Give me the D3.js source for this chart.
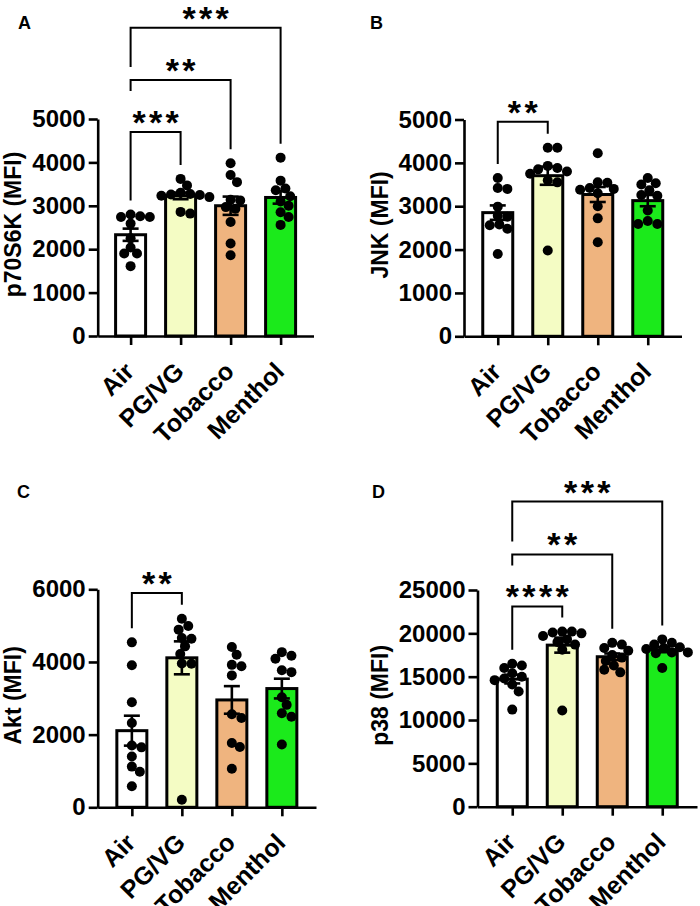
<!DOCTYPE html>
<html><head><meta charset="utf-8">
<script src="https://cdn.jsdelivr.net/npm/d3@7"></script>
<style>
body{margin:0;background:#fff}
svg{display:block}
text{font-family:"Liberation Sans",Arial,sans-serif;font-weight:bold;fill:#000}
</style>
</head><body><svg id="chart" width="700" height="906"></svg>
<script>
// ---------- data ----------
const categories = ["Air", "PG/VG", "Tobacco", "Menthol"];
const barColors = ["#FFFFFF", "#F4FCC4", "#EFB47F", "#1BEA1B"];

// Panel A: p70S6K (MFI)
const p70Air     = [2740, 2740, 2800, 2760, 2590, 2250, 2040, 1900, 1900, 1610];
const p70PGVG    = [3620, 3470, 3250, 3270, 3260, 3230, 3200, 3300, 2820, 2860];
const p70Tobacco = [3980, 3710, 3545, 3125, 3140, 2970, 2930, 2625, 2130, 1860];
const p70Menthol = [4110, 3580, 3360, 3400, 3220, 3100, 3000, 2850, 2740, 2560];
const p70Ticks   = [0, 1000, 2000, 3000, 4000, 5000];
const p70Brackets = [
  {from: "Air", to: "PG/VG",   label: "***", value: 4700},
  {from: "Air", to: "Tobacco", label: "**",  value: 5900},
  {from: "Air", to: "Menthol", label: "***", value: 7100}
];

// Panel B: JNK (MFI)
const jnkAir     = [3650, 3400, 3420, 2990, 2760, 2780, 2580, 2480, 2560, 1900];
const jnkPGVG    = [4350, 4350, 3930, 3880, 3850, 3800, 3750, 3600, 3550, 1980];
const jnkTobacco = [4220, 3550, 3540, 3420, 3380, 3400, 3300, 3000, 2720, 2170];
const jnkMenthol = [3650, 3500, 3530, 3370, 3240, 3260, 2900, 2590, 2660, 2590];
const jnkTicks   = [0, 1000, 2000, 3000, 4000, 5000];
const jnkBrackets = [
  {from: "Air", to: "PG/VG", label: "**", value: 4950}
];

// Panel C: Akt (MFI)
const aktAir     = [4540, 3910, 2890, 2320, 1700, 1650, 1400, 1120, 980, 580];
const aktPGVG    = [5190, 4990, 4890, 4660, 4640, 4430, 4220, 3950, 3960, 210];
const aktTobacco = [4410, 4200, 3880, 3920, 3630, 2560, 2460, 1770, 1660, 1060];
const aktMenthol = [4170, 4090, 4270, 3720, 3770, 2820, 3030, 2590, 2490, 1730];
const aktTicks   = [0, 2000, 4000, 6000];
const aktBrackets = [
  {from: "Air", to: "PG/VG", label: "**", value: 5900}
];

// Panel D: p38 (MFI)
const p38Air     = [16000, 16500, 16300, 14800, 15400, 15000, 14600, 14100, 13300, 11200];
const p38PGVG    = [20200, 20000, 20200, 20100, 19300, 19700, 19000, 18700, 18100, 11100];
const p38Tobacco = [18900, 18700, 18300, 18000, 17500, 17200, 16800, 16300, 15500, 15800];
const p38Menthol = [19300, 18900, 18700, 18400, 18300, 18200, 17800, 17700, 17800, 16000];
const p38Ticks   = [0, 5000, 10000, 15000, 20000, 25000];
const p38Brackets = [
  {from: "Air", to: "PG/VG",   label: "****", value: 23100},
  {from: "Air", to: "Tobacco", label: "**",   value: 29100},
  {from: "Air", to: "Menthol", label: "***",  value: 35200}
];

// ---------- layout ----------
const panels = [
  {letter: "A", ylabel: "p70S6K (MFI)", groups: [p70Air, p70PGVG, p70Tobacco, p70Menthol], ticks: p70Ticks, brackets: p70Brackets,
   x0: 97.7, x1: 313.5, yBottom: 336, yTop: 119, lx: 18, ly: 29},
  {letter: "B", ylabel: "JNK (MFI)", groups: [jnkAir, jnkPGVG, jnkTobacco, jnkMenthol], ticks: jnkTicks, brackets: jnkBrackets,
   x0: 464, x1: 681.5, yBottom: 336.3, yTop: 119.5, lx: 370, ly: 29},
  {letter: "C", ylabel: "Akt (MFI)", groups: [aktAir, aktPGVG, aktTobacco, aktMenthol], ticks: aktTicks, brackets: aktBrackets,
   x0: 97.7, x1: 316, yBottom: 807.3, yTop: 589.3, lx: 17, ly: 498},
  {letter: "D", ylabel: "p38 (MFI)", groups: [p38Air, p38PGVG, p38Tobacco, p38Menthol], ticks: p38Ticks, brackets: p38Brackets,
   x0: 477.5, x1: 697, yBottom: 806.7, yTop: 590, lx: 372, ly: 498}
];

const svg = d3.select("#chart");
const R = 5;            // dot radius
const BAR_W = 30;
const STAR_PITCH = 16.6;
const STAR_SIZE = 34;

function swarm(values, cx, y) {
  const order = values.map((v, i) => ({v, i})).sort((a, b) => b.v - a.v);
  const placed = [];
  const minD = 2 * R * 0.88;
  for (const o of order) {
    const py = y(o.v);
    let px = cx;
    for (let k = 0; k < 60; k++) {
      const off = k === 0 ? 0 : (k % 2 ? 1 : -1) * Math.ceil(k / 2) * 1.6;
      const cand = cx + off;
      if (placed.every(p => Math.hypot(p.x - cand, p.y - py) >= minD)) { px = cand; break; }
    }
    placed.push({x: px, y: py, v: o.v});
  }
  return placed;
}

panels.forEach(P => {
  const g = svg.append("g");
  const w = P.x1 - P.x0;
  const pad = (w / 50 - 3) / 2;
  const x = d3.scalePoint().domain(categories).range([P.x0, P.x1]).padding(pad);
  const y = d3.scaleLinear().domain([0, d3.max(P.ticks)]).range([P.yBottom, P.yTop]);

  // bars
  const stats = P.groups.map((vals, i) => {
    const m = d3.mean(vals);
    const sem = d3.deviation(vals) / Math.sqrt(vals.length);
    return {cat: categories[i], mean: m, sem: sem, vals: vals, color: barColors[i]};
  });
  g.selectAll("rect.bar").data(stats).join("rect")
    .attr("class", "bar")
    .attr("x", d => x(d.cat) - BAR_W / 2)
    .attr("width", BAR_W)
    .attr("y", d => y(d.mean))
    .attr("height", d => y(0) - y(d.mean))
    .attr("fill", d => d.color)
    .attr("stroke", "#000")
    .attr("stroke-width", 3);

  // points
  stats.forEach(s => {
    const pts = swarm(s.vals, x(s.cat), y);
    g.selectAll(null).data(pts).join("circle")
      .attr("cx", d => d.x).attr("cy", d => d.y).attr("r", R).attr("fill", "#000");
  });

  // error bars (SEM)
  stats.forEach(s => {
    const cx = x(s.cat);
    const eg = g.append("g").attr("stroke", "#000").attr("stroke-width", 2.6).attr("fill", "none");
    eg.append("line").attr("x1", cx).attr("x2", cx).attr("y1", y(s.mean + s.sem)).attr("y2", y(s.mean - s.sem));
    eg.append("line").attr("x1", cx - 8).attr("x2", cx + 8).attr("y1", y(s.mean + s.sem)).attr("y2", y(s.mean + s.sem));
    eg.append("line").attr("x1", cx - 8).attr("x2", cx + 8).attr("y1", y(s.mean - s.sem)).attr("y2", y(s.mean - s.sem));
  });

  // axes
  const yAxis = g.append("g").attr("transform", `translate(${P.x0},0)`)
    .call(d3.axisLeft(y).tickValues(P.ticks).tickFormat(d3.format("d")).tickSize(9).tickSizeOuter(0).tickPadding(3));
  const xAxis = g.append("g").attr("transform", `translate(0,${P.yBottom})`)
    .call(d3.axisBottom(x).tickSize(9).tickSizeOuter(0).tickFormat(""));
  [yAxis, xAxis].forEach(a => {
    a.select(".domain").attr("stroke", "#000").attr("stroke-width", 2.6);
    a.selectAll(".tick line").attr("stroke", "#000").attr("stroke-width", 2.6);
  });
  yAxis.selectAll(".tick text").attr("font-size", 24).attr("fill", "#000")
    .style("font-family", '"Liberation Sans", Arial, sans-serif').style("font-weight", "bold");

  // x labels rotated
  g.selectAll("text.xl").data(categories).join("text")
    .attr("class", "xl")
    .attr("transform", d => `translate(${x(d) + 5},${P.yBottom + 37}) rotate(-45)`)
    .attr("text-anchor", "end")
    .attr("font-size", 25)
    .text(d => d);

  // y label
  let minLeft = Infinity;
  yAxis.selectAll(".tick text").each(function() {
    const b = this.getBBox();
    const m = this.getCTM();
    minLeft = Math.min(minLeft, b.x + m.e);
  });
  g.append("text")
    .attr("transform", `translate(${minLeft - 11},${(P.yBottom + P.yTop) / 2 - 3}) rotate(-90)`)
    .attr("text-anchor", "middle")
    .attr("font-size", 23)
    .text(P.ylabel);

  // panel letter
  g.append("text").attr("x", P.lx).attr("y", P.ly).attr("font-size", 18).text(P.letter);

  // significance brackets
  const br = P.brackets.map(b => {
    const xa = x(b.from), xb = x(b.to);
    const mid = (xa + xb) / 2;
    const half = b.label.length * STAR_PITCH / 2;
    return {...b, xa, xb, mid, yl: y(b.value), sx0: mid - half, sx1: mid + half};
  });
  function legEnd(bk, xp, cat) {
    const vals = P.groups[categories.indexOf(cat)];
    const c = [y(d3.max(vals)) - R - 9];
    br.forEach(o => {
      if (o === bk || o.yl <= bk.yl) return;
      if (xp >= o.xa - 1 && xp <= o.xb + 1) c.push(o.yl - 13);
      if (xp >= o.sx0 - 2 && xp <= o.sx1 + 2) c.push(o.yl - 28 - 13);
    });
    return d3.min(c);
  }
  br.forEach(b => {
    const bg = g.append("g").attr("stroke", "#000").attr("stroke-width", 2).attr("fill", "none");
    bg.append("path").attr("d",
      `M${b.xa},${legEnd(b, b.xa, b.from)}V${b.yl}H${b.xb}V${legEnd(b, b.xb, b.to)}`);
    const chars = b.label.split("");
    g.selectAll(null).data(chars).join("text")
      .attr("x", (d, i) => b.mid + (i - (chars.length - 1) / 2) * STAR_PITCH)
      .attr("y", b.yl + 2)
      .attr("text-anchor", "middle")
      .attr("font-size", STAR_SIZE)
      .text(d => d);
  });
});
</script>
</body></html>
